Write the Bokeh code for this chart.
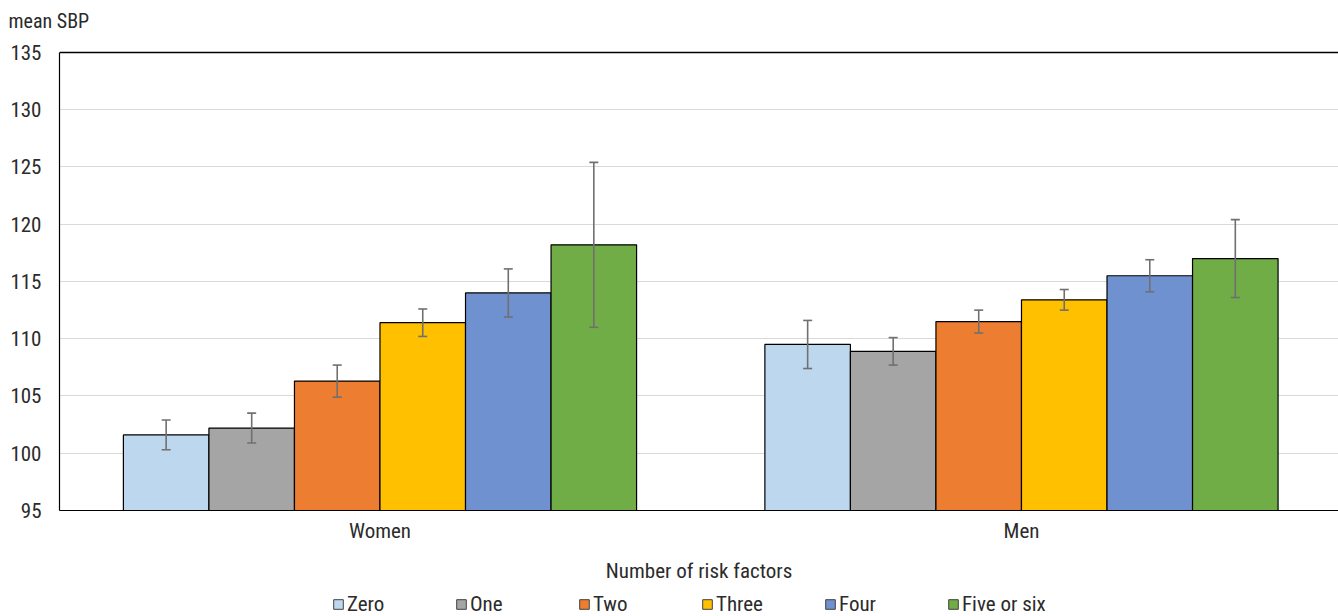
from bokeh.plotting import figure
from bokeh.layouts import column
from bokeh.models import (ColumnDataSource, Range1d, FixedTicker, Span, Legend,
                          LegendItem, Whisker, TeeHead, Title)
from bokeh.embed import file_html
from bokeh.resources import INLINE

# ---- data ----
categories = ["Women", "Men"]
series = ["Zero", "One", "Two", "Three", "Four", "Five or six"]
women_mean = [101.6, 102.2, 106.3, 111.4, 114.0, 118.2]
women_lower = [100.3, 100.9, 104.9, 110.2, 111.9, 111.0]
women_upper = [102.9, 103.5, 107.7, 112.6, 116.1, 125.4]
men_mean = [109.5, 108.9, 111.5, 113.4, 115.5, 117.0]
men_lower = [107.4, 107.7, 110.5, 112.5, 114.1, 113.6]
men_upper = [111.6, 110.1, 112.5, 114.3, 116.9, 120.4]
y_ticks = [95, 100, 105, 110, 115, 120, 125, 130, 135]

colors = ["#BDD7EE", "#A5A5A5", "#ED7D31", "#FFC000", "#6F91D0", "#70AD47"]
FONT = "Liberation Sans Narrow, Roboto Condensed, Roboto"
TXT = "#2B2B2B"
FS = "21px"

group_width = 0.8
bar_w = group_width / len(series)
y_min, y_max = y_ticks[0], y_ticks[-1]

# frame starts a little above the 135 line so the title can sit higher
p = figure(width=1338, height=585, output_backend="svg", toolbar_location=None,
           x_range=Range1d(-0.4996, 1.4942), y_range=Range1d(y_min, 136.572),
           min_border_left=59, min_border_right=0, min_border_top=34, min_border_bottom=74)
p.outline_line_color = None
p.background_fill_color = "white"
p.border_fill_color = "white"

p.title = Title(text="mean SBP", align="left", offset=-51, text_font_size="20px",
                text_font_style="normal", text_font=FONT, text_color=TXT,
                standoff=3)

for i, name in enumerate(series):
    off = (i - (len(series) - 1) / 2) * bar_w
    src = ColumnDataSource(dict(
        x=[c_i + off for c_i in range(len(categories))],
        top=[women_mean[i], men_mean[i]],
        lower=[women_lower[i], men_lower[i]],
        upper=[women_upper[i], men_upper[i]],
    ))
    p.vbar(x="x", top="top", bottom=0, width=bar_w, source=src,
           fill_color=colors[i], line_color="#000000", line_width=1.2)
    w = Whisker(base="x", lower="lower", upper="upper", source=src, dimension="height",
                level="annotation", line_color="#707070", line_width=1.6,
                upper_head=TeeHead(size=9, line_color="#707070", line_width=1.6),
                lower_head=TeeHead(size=9, line_color="#707070", line_width=1.6))
    p.add_layout(w)

# axes
p.xgrid.grid_line_color = None
p.ygrid.grid_line_color = "#D9D9D9"
p.ygrid.grid_line_width = 1.2
p.yaxis.ticker = FixedTicker(ticks=y_ticks)
p.yaxis.bounds = (y_min, y_max)
p.yaxis.major_tick_line_color = None
p.yaxis.minor_tick_line_color = None
p.yaxis.axis_line_color = "#000000"
p.yaxis.axis_line_width = 1.2
p.yaxis.major_label_standoff = 12
p.yaxis.major_label_text_font = FONT
p.yaxis.major_label_text_font_size = FS
p.yaxis.major_label_text_color = TXT

p.xaxis.ticker = FixedTicker(ticks=list(range(len(categories))))
p.xaxis.major_label_overrides = {i: c for i, c in enumerate(categories)}
p.xaxis.major_tick_line_color = None
p.xaxis.minor_tick_line_color = None
p.xaxis.axis_line_color = "#000000"
p.xaxis.axis_line_width = 1.2
p.xaxis.major_label_standoff = 2
p.xaxis.major_label_text_font = FONT
p.xaxis.major_label_text_font_size = FS
p.xaxis.major_label_text_color = TXT
p.xaxis.axis_label = "Number of risk factors"
p.xaxis.axis_label_standoff = 13
p.xaxis.axis_label_text_font = FONT
p.xaxis.axis_label_text_font_size = FS
p.xaxis.axis_label_text_font_style = "normal"
p.xaxis.axis_label_text_color = TXT

p.add_layout(Span(location=y_max, dimension="width", line_color="#000000", line_width=1.4))

# ---- legend strip (separate small figure below) ----
lg = figure(width=1338, height=31, output_backend="svg", toolbar_location=None,
            x_range=Range1d(0, 1), y_range=Range1d(0, 1),
            x_axis_location=None, y_axis_location=None,
            min_border_left=0, min_border_right=0, min_border_top=0, min_border_bottom=0)
lg.outline_line_color = None
lg.grid.grid_line_color = None
lg.center = []
items = []
for i, name in enumerate(series):
    # off-range placeholder so that the legend swatch can be drawn
    r = lg.vbar(x=[-10], top=[-5], bottom=-6, width=0.1, fill_color=colors[i],
                line_color="#404040", line_width=1)
    items.append(LegendItem(label=name, renderers=[r]))
legend = Legend(items=items, orientation="horizontal", location=(273, 0),
                glyph_width=12, glyph_height=12, label_standoff=3,
                label_width=108, label_height=12,
                spacing=0, padding=0, margin=0, border_line_color=None,
                background_fill_alpha=0,
                label_text_font=FONT, label_text_font_size=FS, label_text_color=TXT)
lg.add_layout(legend)

layout = column(p, lg, spacing=0)
open("out.html", "w").write(file_html(layout, INLINE))
